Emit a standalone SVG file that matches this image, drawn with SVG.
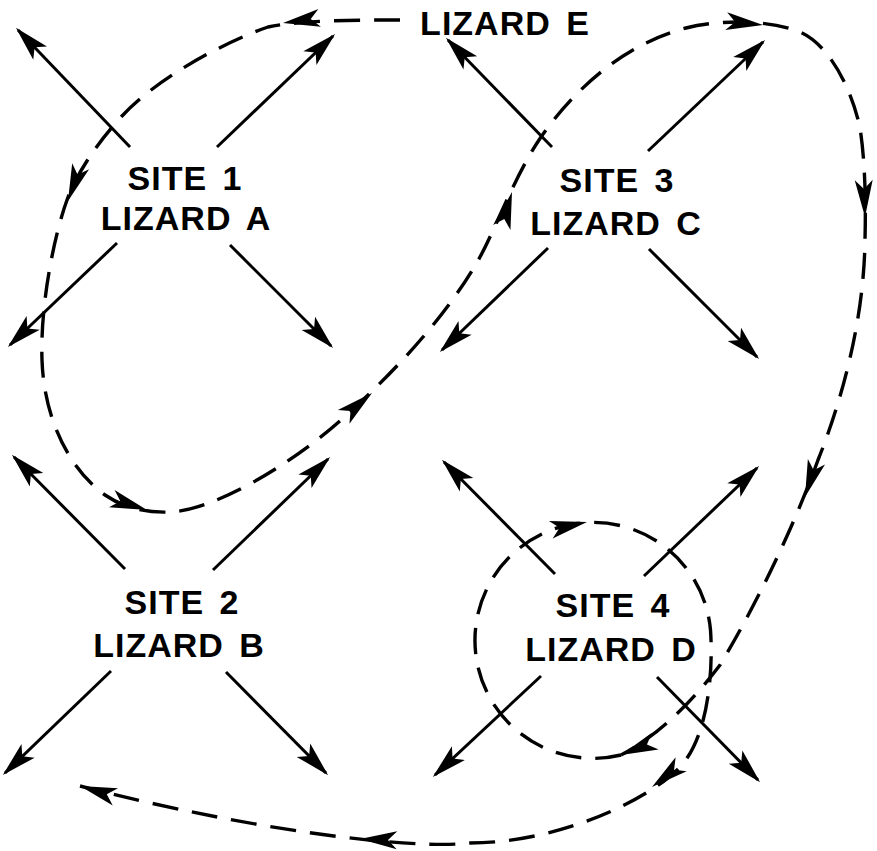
<svg xmlns="http://www.w3.org/2000/svg" xmlns:xlink="http://www.w3.org/1999/xlink" width="877" height="851" viewBox="0 0 877 851">
  <style>
    .lbl { font-family: "Liberation Sans", Arial, sans-serif; font-weight: 700; font-size: 34px; fill: #000; text-anchor: middle; letter-spacing: 1px; word-spacing: 5px; }
    .move { stroke: #000; stroke-width: 3; fill: none; marker-end: url(#head); }
    .path { stroke: #000; stroke-width: 3.4; fill: none; stroke-dasharray: 26 14; }
    .tip { fill: #000; }
  </style>
  <defs>
    <marker id="head" markerUnits="userSpaceOnUse" orient="auto" refX="0" refY="0" markerWidth="40" markerHeight="40" overflow="visible">
      <path d="M3,0 L-32,-9.5 L-24,0 L-32,9.5 Z" fill="#000"/>
    </marker>
    <path id="dtip" d="M0,0 L-37,-9 L-28,0 L-37,9 Z"/>
  </defs>
  <rect width="877" height="851" fill="#fff"/>

  <!-- dispersal movements from each site -->
  <g id="site1">
    <line class="move" x1="130" y1="147" x2="18" y2="30"/>
    <line class="move" x1="217" y1="147" x2="333" y2="36"/>
    <line class="move" x1="117" y1="243" x2="10" y2="345"/>
    <line class="move" x1="230" y1="245" x2="331" y2="346"/>
    <text class="lbl" x="185" y="190">SITE 1</text>
    <text class="lbl" x="186" y="230">LIZARD A</text>
  </g>
  <g id="site3">
    <line class="move" x1="552" y1="147" x2="448" y2="40"/>
    <line class="move" x1="648" y1="151" x2="763" y2="42"/>
    <line class="move" x1="548" y1="248" x2="442" y2="350"/>
    <line class="move" x1="649" y1="249" x2="757" y2="357"/>
    <text class="lbl" x="617" y="192">SITE 3</text>
    <text class="lbl" x="616" y="235">LIZARD C</text>
  </g>
  <g id="site2">
    <line class="move" x1="125" y1="569" x2="14" y2="457"/>
    <line class="move" x1="213" y1="570" x2="328" y2="459"/>
    <line class="move" x1="111" y1="671" x2="5" y2="773"/>
    <line class="move" x1="226" y1="672" x2="326" y2="773"/>
    <text class="lbl" x="182" y="614">SITE 2</text>
    <text class="lbl" x="179" y="657">LIZARD B</text>
  </g>
  <g id="site4">
    <line class="move" x1="555" y1="574" x2="444" y2="462"/>
    <line class="move" x1="644" y1="576" x2="757" y2="468"/>
    <line class="move" x1="541" y1="676" x2="435" y2="775"/>
    <line class="move" x1="657" y1="677" x2="758" y2="780"/>
    <text class="lbl" x="613" y="617">SITE 4</text>
    <text class="lbl" x="611" y="661">LIZARD D</text>
  </g>
  <g id="lizardE">
    <text class="lbl" x="505" y="35">LIZARD E</text>
  </g>

  <!-- route of lizard E -->
  <g id="connectors">
    <path class="path" d="M400,20 C360,20 300,20 268,27 C230,40 160,75 122,116 C100,140 78,170 67,200 C56,230 40,300 42,360 C44,420 70,470 105,495 C125,509 150,513 170,512 C215,510 290,465 340,421 C385,381 445,320 480,257 C495,230 515,175 541,137 C570,95 620,45 686,28 C720,19 770,20 800,32 C830,45 852,90 860,128 C865,160 866,200 865,240 C864,320 842,400 818,460 C800,510 765,590 720,665 C695,698 660,735 621,755"/>
    <path class="path" d="M621,755 A118,118 0 1 1 710.5,630 C713,665 710,735 680,767 C650,799 560,843 470,843 C410,850 250,830 80,786"/>
    <use class="tip" xlink:href="#dtip" transform="translate(283,23) rotate(172)"/>
    <use class="tip" xlink:href="#dtip" transform="translate(68,201) rotate(110)"/>
    <use class="tip" xlink:href="#dtip" transform="translate(147,510) rotate(18)"/>
    <use class="tip" xlink:href="#dtip" transform="translate(372,393) rotate(-40)"/>
    <use class="tip" xlink:href="#dtip" transform="translate(512,192) rotate(-74)"/>
    <use class="tip" xlink:href="#dtip" transform="translate(763,25) rotate(6)"/>
    <use class="tip" xlink:href="#dtip" transform="translate(865,217) rotate(88)"/>
    <use class="tip" xlink:href="#dtip" transform="translate(805,497) rotate(108)"/>
    <use class="tip" xlink:href="#dtip" transform="translate(621,755) rotate(158)"/>
    <use class="tip" xlink:href="#dtip" transform="translate(587,522) rotate(-12)"/>
    <use class="tip" xlink:href="#dtip" transform="translate(652,787) rotate(142)"/>
    <use class="tip" xlink:href="#dtip" transform="translate(360,839) rotate(182)"/>
    <use class="tip" xlink:href="#dtip" transform="translate(80,786) rotate(197)"/>
  </g>
</svg>
